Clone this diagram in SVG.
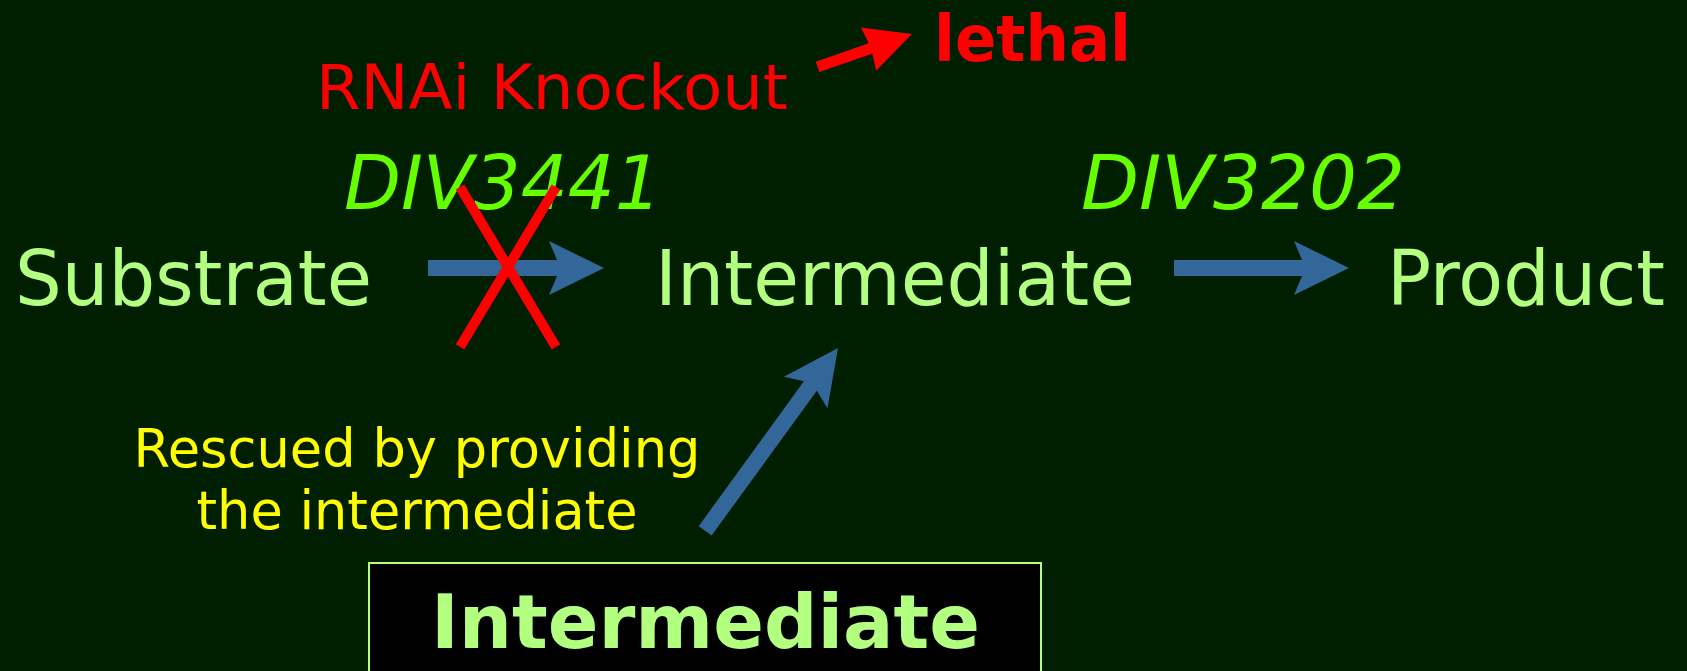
<svg xmlns="http://www.w3.org/2000/svg" width="1687" height="671" viewBox="0 0 1687 671">
  <defs>
    <style>
      .t { font-family: "DejaVu Sans", Verdana, sans-serif; }
      .node { fill: #b3ff80; font-size: 77px; }
      .enz { fill: #66ff00; font-size: 74px; font-style: italic; }
      .note { fill: #ffff00; font-size: 53px; text-anchor: middle; }
      .red { fill: #ff0000; }
      .flow { fill: #336699; }
      .cross { stroke: #ff0000; stroke-width: 10; fill: none; }
    </style>
  </defs>

  <!-- background -->
  <rect x="0" y="0" width="1687" height="671" fill="#001e00"/>

  <!-- knockout annotation -->
  <g id="knockout">
    <text class="t red" x="316" y="109" font-size="63" textLength="472" lengthAdjust="spacingAndGlyphs">RNAi Knockout</text>
  </g>
  <g id="lethal">
    <text class="t red" x="934" y="61" font-size="64" font-weight="bold" textLength="197" lengthAdjust="spacingAndGlyphs">lethal</text>
  </g>

  <!-- enzyme labels -->
  <g id="enzyme-div3441">
    <text class="t enz" x="344" y="209" textLength="318" lengthAdjust="spacingAndGlyphs">DIV3441</text>
  </g>
  <g id="enzyme-div3202">
    <text class="t enz" x="1081" y="209" textLength="324" lengthAdjust="spacingAndGlyphs">DIV3202</text>
  </g>

  <!-- pathway nodes -->
  <g id="substrate">
    <text class="t node" x="15" y="305" textLength="357" lengthAdjust="spacingAndGlyphs">Substrate</text>
  </g>
  <g id="intermediate">
    <text class="t node" x="655" y="305" textLength="480" lengthAdjust="spacingAndGlyphs">Intermediate</text>
  </g>
  <g id="product">
    <text class="t node" x="1387" y="305" textLength="278" lengthAdjust="spacingAndGlyphs">Product</text>
  </g>

  <!-- rescue note -->
  <g id="rescue-note">
    <text class="t note" x="417" y="467" textLength="567" lengthAdjust="spacingAndGlyphs">Rescued by providing</text>
    <text class="t note" x="417" y="529" textLength="441" lengthAdjust="spacingAndGlyphs">the intermediate</text>
  </g>

  <!-- supplied intermediate box -->
  <g id="supplied-intermediate">
    <rect x="369" y="563" width="672" height="130" fill="#000000" stroke="#b3ff80" stroke-width="2"/>
    <text class="t" x="431" y="648" font-size="74" font-weight="bold" fill="#b3ff80" textLength="549" lengthAdjust="spacingAndGlyphs">Intermediate</text>
  </g>

  <!-- connectors -->
  <g id="connectors">
    <!-- Substrate -> Intermediate -->
    <polygon class="flow" transform="translate(604,268)" points="-176,-8 -47,-8 -55,-27 0,0 -55,27 -47,8 -176,8"/>
    <!-- Intermediate -> Product -->
    <polygon class="flow" transform="translate(1349,268)" points="-175,-8 -47,-8 -55,-27 0,0 -55,27 -47,8 -175,8"/>
    <!-- supplied intermediate -> Intermediate -->
    <polygon class="flow" transform="translate(838,348) rotate(-54)" points="-226,-8 -47,-8 -55,-27 0,0 -55,27 -47,8 -226,8"/>
    <!-- knockout -> lethal -->
    <polygon class="red" transform="translate(912,34) rotate(-19.2)" points="-100,-5.5 -44,-5.5 -46,-23 0,0 -46,23 -44,5.5 -100,5.5"/>
    <!-- knocked-out step -->
    <line class="cross" x1="460" y1="187" x2="556" y2="347"/>
    <line class="cross" x1="556" y1="187" x2="460" y2="347"/>
  </g>
</svg>
